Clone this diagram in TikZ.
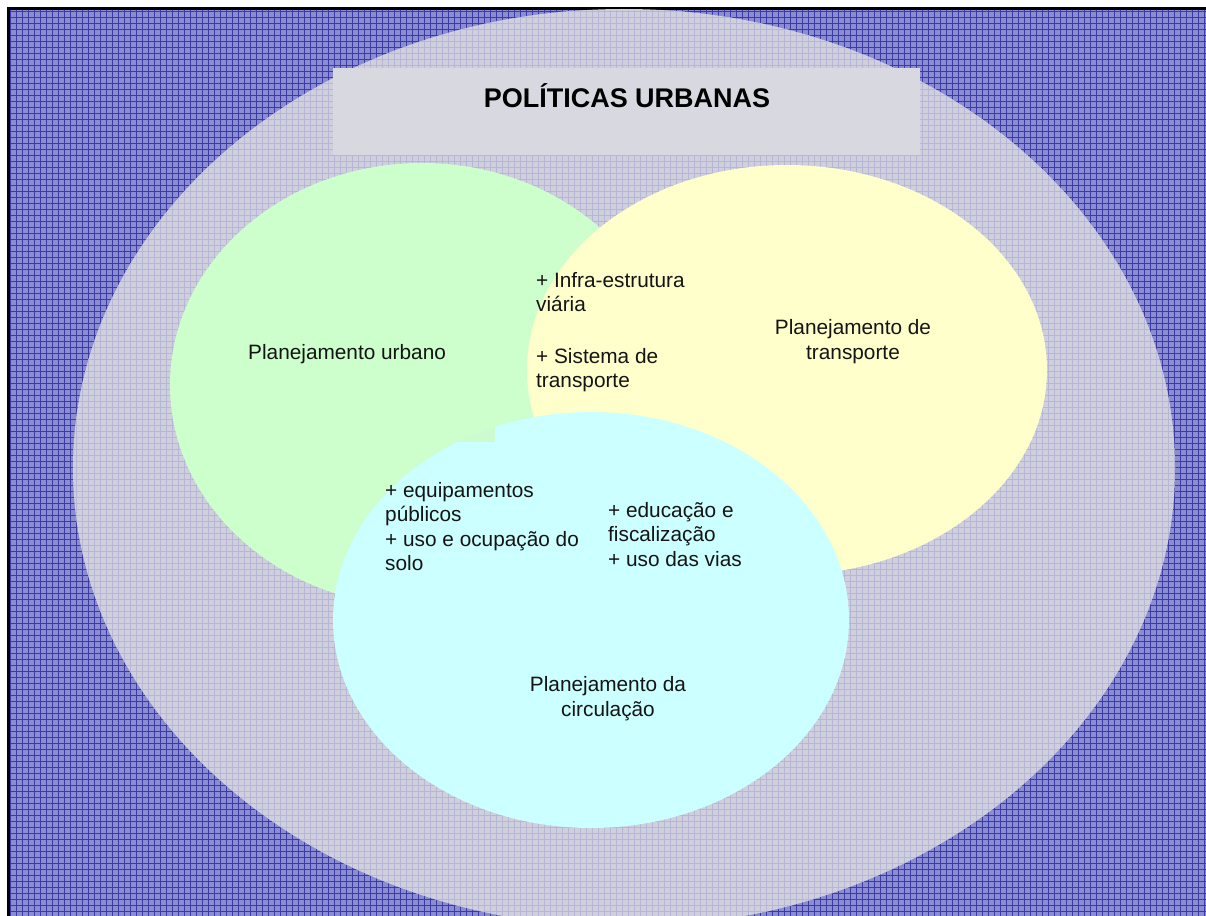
\documentclass[tikz,border=0pt]{standalone}
\usepackage{fontspec}
\setmainfont{Liberation Sans}
\definecolor{bgblue}{RGB}{140,140,208}
\definecolor{gridblue}{RGB}{58,58,168}
\definecolor{ellgrey}{RGB}{208,208,221}
\definecolor{ellgrid}{RGB}{182,182,216}
\definecolor{titlegrey}{RGB}{216,216,224}
\definecolor{urbgreen}{RGB}{204,255,204}
\definecolor{trayellow}{RGB}{255,255,204}
\definecolor{circcyan}{RGB}{204,255,255}
\newcommand\leftrows[1]{\vtop{\baselineskip=24.5bp\lineskiplimit=-100bp\halign{##\hfil\cr#1\crcr}}}
\newcommand\centerrows[1]{\vtop{\baselineskip=25bp\lineskiplimit=-100bp\halign{\hfil##\hfil\cr#1\crcr}}}
\tikzset{
  label text/.style={inner sep=0pt, text=black!92, font=\fontsize{20.8bp}{24.5bp}\selectfont},
  title text/.style={inner sep=0pt, text=black, font=\fontsize{27bp}{32bp}\selectfont\bfseries},
}
\begin{document}
\begin{tikzpicture}[x=1bp,y=-1bp]
\useasboundingbox (0,0) rectangle (1206,916);
\fill[white] (0,0) rectangle (1206,916);
% frame edges
\fill[black] (7,7) rectangle (1206,10);
\fill[black] (7,7) rectangle (9.5,916);
% plaid background
\fill[bgblue] (9.5,10) rectangle (1206,916);
\begin{scope}
  \clip (9.5,10) rectangle (1206,916);
  \foreach \i in {0,...,200} {
    \draw[gridblue, line width=0.9bp] (10+6*\i,10) -- ++(0,906);
  }
  \foreach \j in {0,...,152} {
    \draw[gridblue, line width=0.9bp] (9.5,11+6*\j) -- ++(1197,0);
  }
\end{scope}
% outer ellipse
\fill[ellgrey] (624,468) ellipse [x radius=551, y radius=459];
\begin{scope}
  \clip (624,468) ellipse [x radius=551, y radius=459];
  \foreach \i in {0,...,200} {
    \draw[ellgrid, line width=0.5bp] (10+6*\i,10) -- ++(0,906);
  }
  \foreach \j in {0,...,152} {
    \draw[ellgrid, line width=0.5bp] (9.5,11+6*\j) -- ++(1197,0);
  }
\end{scope}
% title panel
\fill[titlegrey] (333,68) rectangle (920,155);
\node[title text, anchor=base] (title) at (627,107) {POLÍTICAS URBANAS};
% the three planning areas
\fill[urbgreen] (422,385) ellipse [x radius=252, y radius=222];
\fill[trayellow] (787,370) ellipse [x radius=260, y radius=205];
\fill[circcyan] (591,620) ellipse [x radius=258, y radius=208];
\begin{scope}
  \clip (591,620) ellipse [x radius=258, y radius=208];
  \fill[urbgreen!90!ellgrey] (440,400) rectangle (495,442);
\end{scope}
% labels
\node[label text, anchor=base west] (urbano) at (248,359) {Planejamento urbano};
\node[label text, anchor=base] (transp) at (853,334) {\centerrows{Planejamento de\cr transporte}};
\node[label text, anchor=base] (circ) at (608,691) {\centerrows{Planejamento da\cr circulação}};
\node[label text, anchor=base west] (infra) at (536,287) {\leftrows{+ Infra-estrutura\cr viária}};
\node[label text, anchor=base west] (sist) at (536,363) {\leftrows{+ Sistema de\cr transporte}};
\node[label text, anchor=base west] (equip) at (385,497) {\leftrows{+ equipamentos\cr públicos\cr + uso e ocupação do\cr solo}};
\node[label text, anchor=base west] (educ) at (608,517) {\leftrows{+ educação e\cr fiscalização\cr + uso das vias}};
\end{tikzpicture}
\end{document}
